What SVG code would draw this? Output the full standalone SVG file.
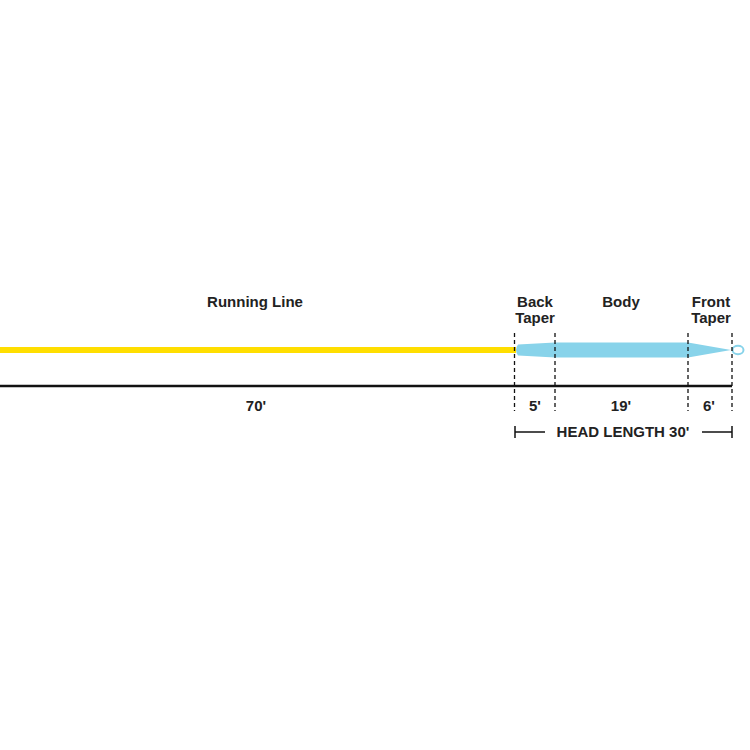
<svg xmlns="http://www.w3.org/2000/svg" width="750" height="750" viewBox="0 0 750 750">
<style>
.t{font-family:"Liberation Sans",Arial,sans-serif;font-weight:bold;font-size:15px;fill:#222;text-anchor:middle}
.d{stroke:#111;stroke-width:1.3;stroke-dasharray:4,3;fill:none}
.k{stroke:#111;stroke-width:1.5;fill:none}
</style>
<rect width="750" height="750" fill="#fff"/>
<g id="running-line">
<rect x="0" y="347" width="516" height="6" fill="#FFDE00"/>
<text class="t" x="255" y="307">Running Line</text>
</g>
<g id="head">
<path d="M518,344.5 L555,342.5 L688,342.5 L731,350 L688,357.5 L555,357.5 L518,355.5 Q514,350 518,344.5 Z" fill="#88D3EA"/>
<ellipse cx="738" cy="350" rx="5.5" ry="4.2" fill="#fff" stroke="#88D3EA" stroke-width="2"/>
</g>
<g id="labels">
<text class="t" x="535" y="307">Back</text>
<text class="t" x="535" y="323">Taper</text>
<text class="t" x="621" y="307">Body</text>
<text class="t" x="711" y="307">Front</text>
<text class="t" x="711" y="323">Taper</text>
<text class="t" x="256" y="411">70'</text>
<text class="t" x="535" y="411">5'</text>
<text class="t" x="621" y="411">19'</text>
<text class="t" x="709" y="411">6'</text>
<text class="t" x="623" y="437">HEAD LENGTH 30'</text>
</g>
<g id="connectors">
<line x1="0" y1="386" x2="732" y2="386" stroke="#111" stroke-width="2.5"/>
<line class="d" x1="514.5" y1="333" x2="514.5" y2="411"/>
<line class="d" x1="555" y1="333" x2="555" y2="411"/>
<line class="d" x1="688" y1="333" x2="688" y2="411"/>
<line class="d" x1="732" y1="333" x2="732" y2="411"/>
<line class="k" x1="515" y1="432" x2="545" y2="432"/>
<line class="k" x1="515" y1="426" x2="515" y2="438"/>
<line class="k" x1="702" y1="432" x2="732" y2="432"/>
<line class="k" x1="732" y1="426" x2="732" y2="438"/>
</g>
</svg>
